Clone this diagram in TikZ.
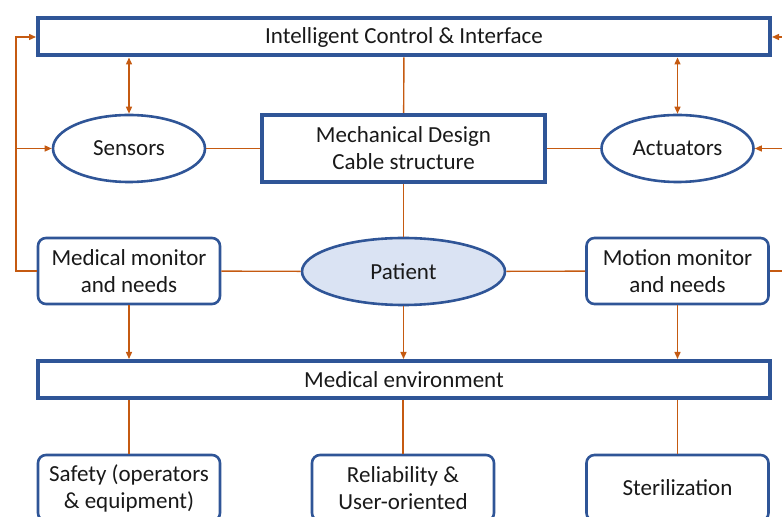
\documentclass[tikz,border=0pt]{standalone}
\usepackage{fontspec}
\setmainfont{Carlito}
\usetikzlibrary{shapes.geometric, arrows.meta}
\definecolor{frameblue}{HTML}{2F5597}
\definecolor{linkorange}{HTML}{C55A11}
\definecolor{patientfill}{HTML}{DAE3F3}

\begin{document}
\begin{tikzpicture}[x=0.5pt,y=-0.5pt,
    font=\fontsize{11.5}{13.5}\selectfont, text=black!90,
    bar/.style={draw=frameblue, line width=2pt, minimum height=18.5pt, minimum width=366pt, inner sep=0pt},
    block/.style={draw=frameblue, line width=2pt, minimum height=33.5pt, minimum width=141.5pt, align=center, inner sep=0pt},
    roundbox/.style={draw=frameblue, line width=1.3pt, rounded corners=4pt, minimum height=33pt, minimum width=91pt, align=center, inner sep=0pt},
    oval/.style={ellipse, draw=frameblue, line width=1.3pt, minimum height=33.5pt, minimum width=76pt, inner sep=0pt},
    link/.style={draw=linkorange, line width=0.7pt},
    tip/.style={-{Triangle[length=3.5pt,width=3pt]}},
    both/.style={{Triangle[length=3.5pt,width=3pt]}-{Triangle[length=3.5pt,width=3pt]}}]
    \clip (0,0) rectangle (782,517);
    \useasboundingbox (0,0) rectangle (782,517);
    % top row
    \node[bar] (ctrl) at (404,37) {Intelligent Control \& Interface};
    \node[oval] (sens) at (129,148.5) {Sensors};
    \node[block] (mech) at (403.5,148.5) {Mechanical Design\\Cable structure};
    \node[oval] (act) at (677.5,148.5) {Actuators};
    % middle row
    \node[roundbox] (medmon) at (129,271) {Medical monitor\\and needs};
    \node[oval, fill=patientfill, minimum width=101.5pt] (patient) at (403.5,271.5) {Patient};
    \node[roundbox] (motmon) at (677.5,271) {Motion monitor\\and needs};
    \node[bar] (medenv) at (404,379.5) {Medical environment};
    % bottom row
    \node[roundbox] (safety) at (129,488) {Safety (operators\\\& equipment)};
    \node[roundbox] (reliab) at (403,488) {Reliability \&\\User-oriented};
    \node[roundbox] (steril) at (677.5,488) {Sterilization};
    % feedback loops
    \coordinate (lfb) at (16,271);
    \coordinate (rfb) at (796,271);
    \draw[link, tip] (medmon.west) -- (lfb) |- (ctrl.west);
    \draw[link, tip] (lfb) |- (sens.west);
    \draw[link, tip] (motmon.east) -- (rfb) |- (ctrl.east);
    \draw[link, tip] (rfb) |- (act.east);
    % plain links
    \draw[link] (ctrl) -- (mech);
    \draw[link] (sens) -- (mech) -- (act);
    \draw[link] (mech) -- (patient);
    \draw[link] (medmon) -- (patient) -- (motmon);
    \draw[link, both] (ctrl.south -| sens) -- (sens);
    \draw[link, both] (ctrl.south -| act) -- (act);
    \foreach \n in {medmon,patient,motmon}
        \draw[link, tip] (\n) -- (medenv.north -| \n);
    \foreach \n in {safety,reliab,steril}
        \draw[link] (medenv.south -| \n) -- (\n);
\end{tikzpicture}
\end{document}
